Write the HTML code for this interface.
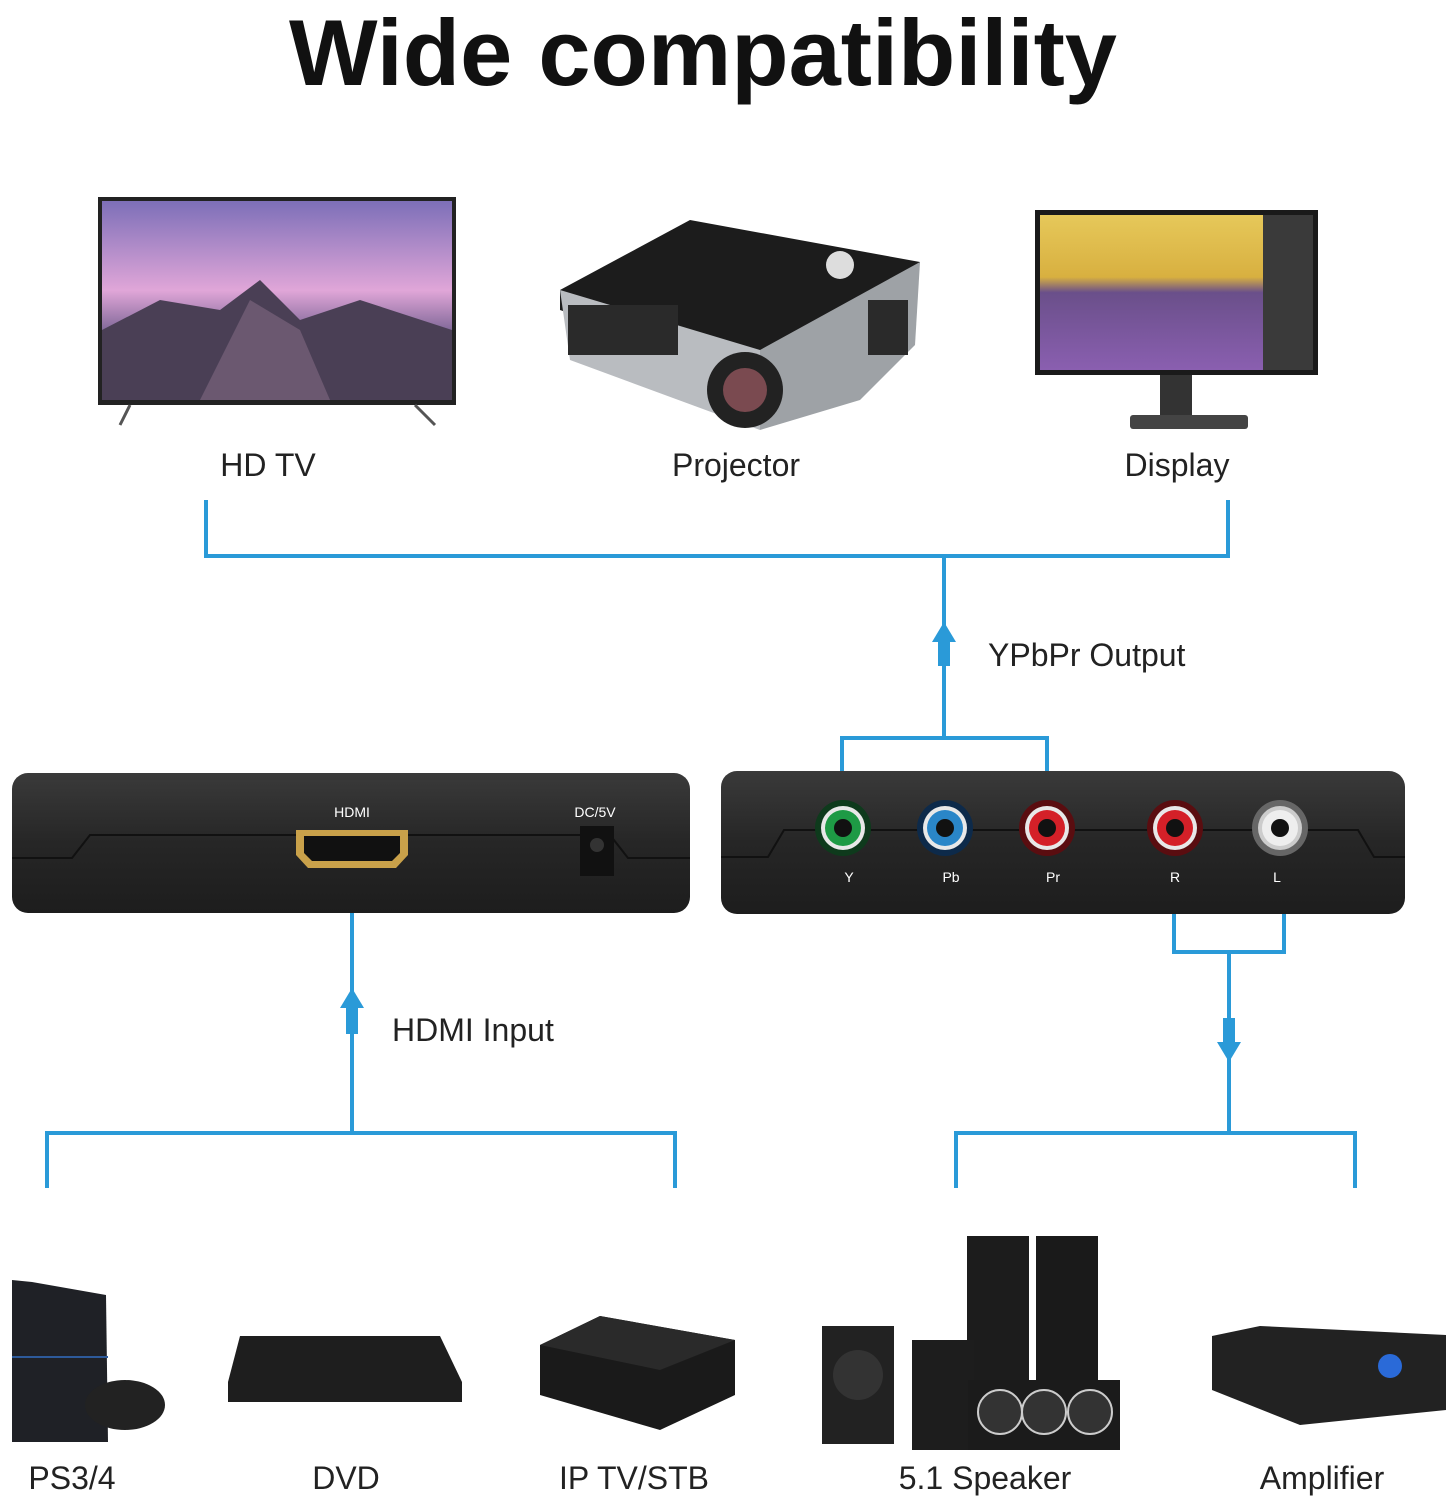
<!DOCTYPE html>
<html><head><meta charset="utf-8"><style>
html,body{margin:0;padding:0;background:#fff}
svg{display:block}
text{font-family:"Liberation Sans",sans-serif}
</style></head><body>
<svg width="1446" height="1500" viewBox="0 0 1446 1500" xmlns="http://www.w3.org/2000/svg">
<defs>
<linearGradient id="sky" x1="0" y1="0" x2="0" y2="1"><stop offset="0" stop-color="#7d6fb8"/><stop offset="0.45" stop-color="#e0a6d8"/><stop offset="0.7" stop-color="#6a5a8a"/><stop offset="1" stop-color="#c9b2d8"/></linearGradient>
<linearGradient id="lav" x1="0" y1="0" x2="0" y2="1"><stop offset="0" stop-color="#e6c85a"/><stop offset="0.4" stop-color="#d8b040"/><stop offset="0.5" stop-color="#6a4f8a"/><stop offset="1" stop-color="#8a5fb0"/></linearGradient>
<linearGradient id="dev" x1="0" y1="0" x2="0" y2="1"><stop offset="0" stop-color="#3a3a3a"/><stop offset="0.5" stop-color="#262626"/><stop offset="1" stop-color="#1d1d1d"/></linearGradient>
</defs>
<text x="703" y="85" text-anchor="middle" font-size="94" font-weight="bold" fill="#111" textLength="828" lengthAdjust="spacingAndGlyphs">Wide compatibility</text>

<!-- TV -->
<rect x="98" y="197" width="358" height="208" fill="#222"/>
<rect x="102" y="201" width="350" height="199" fill="url(#sky)"/>
<polygon points="102,330 160,300 220,310 260,280 300,320 360,300 452,330 452,400 102,400" fill="#4a3f55"/>
<polygon points="200,400 250,300 300,330 330,400" fill="#6b5870"/>
<path d="M130 405 L120 425 M415 405 L435 425" stroke="#555" stroke-width="3"/>
<text x="268" y="476" text-anchor="middle" font-size="32" fill="#222">HD TV</text>

<!-- Projector -->
<polygon points="560,290 690,220 920,262 905,330 760,380 560,310" fill="#1c1c1c"/>
<polygon points="560,290 760,350 760,430 570,360" fill="#b9bcc0"/>
<polygon points="760,350 920,262 915,345 860,400 760,430" fill="#9ea2a6"/>
<rect x="568" y="305" width="110" height="50" fill="#2a2a2a"/>
<rect x="868" y="300" width="40" height="55" fill="#2a2a2a"/>
<circle cx="745" cy="390" r="38" fill="#222"/><circle cx="745" cy="390" r="22" fill="#7a4a50"/>
<circle cx="840" cy="265" r="14" fill="#ddd"/>
<text x="736" y="476" text-anchor="middle" font-size="32" fill="#222">Projector</text>

<!-- Display -->
<rect x="1035" y="210" width="283" height="165" fill="#1a1a1a"/>
<rect x="1040" y="215" width="223" height="155" fill="url(#lav)"/>
<rect x="1263" y="215" width="50" height="155" fill="#3a3a3a"/>
<rect x="1160" y="375" width="32" height="40" fill="#333"/>
<rect x="1130" y="415" width="118" height="14" rx="3" fill="#444"/>
<text x="1177" y="476" text-anchor="middle" font-size="32" fill="#222">Display</text>

<g stroke="#2a9ad8" stroke-width="4" fill="none">
<path d="M206 500 V556 H1228 V500"/>
<path d="M944 556 V738"/>
<path d="M842 785 V738 H1047 V785"/>
<path d="M352 903 V1133"/>
<path d="M47 1188 V1133 H675 V1188"/>
<path d="M1174 905 V952 H1284 V905"/>
<path d="M1229 952 V1133"/>
<path d="M956 1188 V1133 H1355 V1188"/>
</g>
<g fill="#2a9ad8">
<polygon points="944,622 932,642 956,642"/><rect x="938" y="640" width="12" height="26"/>
<polygon points="352,988 340,1008 364,1008"/><rect x="346" y="1006" width="12" height="28"/>
<polygon points="1229,1062 1217,1042 1241,1042"/><rect x="1223" y="1018" width="12" height="26"/>
</g>
<text x="988" y="666" font-size="32" fill="#222">YPbPr Output</text>
<text x="392" y="1041" font-size="32" fill="#222">HDMI Input</text>

<!-- Left device -->
<rect x="12" y="773" width="678" height="140" rx="16" fill="url(#dev)"/>
<path d="M12 858 H72 L90 835 H610 L628 858 H690" stroke="#111" stroke-width="2" fill="none"/>
<text x="352" y="817" text-anchor="middle" font-size="14" fill="#fff">HDMI</text>
<polygon points="296,830 408,830 408,855 396,868 308,868 296,855" fill="#c9a14a"/>
<polygon points="304,836 400,836 400,853 392,861 312,861 304,853" fill="#111"/>
<text x="595" y="817" text-anchor="middle" font-size="14" fill="#fff">DC/5V</text>
<rect x="580" y="826" width="34" height="50" fill="#111"/><circle cx="597" cy="845" r="7" fill="#333"/>

<!-- Right device -->
<rect x="721" y="771" width="684" height="143" rx="16" fill="url(#dev)"/>
<path d="M721 857 H768 L784 830 H1358 L1374 857 H1405" stroke="#111" stroke-width="2" fill="none"/>
<g>
<circle cx="843" cy="828" r="28" fill="#0e3a1c"/><circle cx="843" cy="828" r="22" fill="#e8e8e8"/><circle cx="843" cy="828" r="18" fill="#1e9a45"/><circle cx="843" cy="828" r="9" fill="#111"/>
<circle cx="945" cy="828" r="28" fill="#0d2a4a"/><circle cx="945" cy="828" r="22" fill="#e8e8e8"/><circle cx="945" cy="828" r="18" fill="#2a86c8"/><circle cx="945" cy="828" r="9" fill="#111"/>
<circle cx="1047" cy="828" r="28" fill="#5a0d10"/><circle cx="1047" cy="828" r="22" fill="#e8e8e8"/><circle cx="1047" cy="828" r="18" fill="#d42028"/><circle cx="1047" cy="828" r="9" fill="#111"/>
<circle cx="1175" cy="828" r="28" fill="#5a0d10"/><circle cx="1175" cy="828" r="22" fill="#e8e8e8"/><circle cx="1175" cy="828" r="18" fill="#d42028"/><circle cx="1175" cy="828" r="9" fill="#111"/>
<circle cx="1280" cy="828" r="28" fill="#666"/><circle cx="1280" cy="828" r="22" fill="#ccc"/><circle cx="1280" cy="828" r="18" fill="#eee"/><circle cx="1280" cy="828" r="9" fill="#111"/>
</g>
<g font-size="14" fill="#fff" text-anchor="middle">
<text x="849" y="882">Y</text><text x="951" y="882">Pb</text><text x="1053" y="882">Pr</text><text x="1175" y="882">R</text><text x="1277" y="882">L</text>
</g>

<!-- bottom devices -->
<polygon points="12,1280 32,1282 106,1295 108,1442 12,1442" fill="#1f2126"/>
<rect x="12" y="1356" width="96" height="2" fill="#2d5a9a"/>
<ellipse cx="125" cy="1405" rx="40" ry="25" fill="#222"/>
<polygon points="228,1382 240,1336 440,1336 462,1382 462,1402 228,1402" fill="#1e1e1e"/>
<polygon points="540,1345 600,1316 735,1340 735,1395 660,1430 540,1395" fill="#1a1a1a"/>
<polygon points="540,1345 600,1316 735,1340 660,1370" fill="#2a2a2a"/>
<rect x="967" y="1236" width="62" height="210" fill="#1c1c1c"/>
<rect x="1036" y="1236" width="62" height="210" fill="#1a1a1a"/>
<rect x="822" y="1326" width="72" height="118" fill="#222"/>
<circle cx="858" cy="1375" r="25" fill="#333"/>
<rect x="912" y="1340" width="62" height="110" fill="#1d1d1d"/>
<rect x="968" y="1380" width="152" height="70" fill="#1b1b1b"/>
<circle cx="1000" cy="1412" r="22" fill="#333" stroke="#ccc" stroke-width="2"/>
<circle cx="1044" cy="1412" r="22" fill="#333" stroke="#ccc" stroke-width="2"/>
<circle cx="1090" cy="1412" r="22" fill="#333" stroke="#ccc" stroke-width="2"/>
<polygon points="1212,1336 1260,1326 1446,1335 1446,1410 1300,1425 1212,1390" fill="#222"/>
<circle cx="1390" cy="1366" r="12" fill="#2a6ad8"/>

<g font-size="32" fill="#222" text-anchor="middle">
<text x="72" y="1489">PS3/4</text>
<text x="346" y="1489">DVD</text>
<text x="634" y="1489">IP TV/STB</text>
<text x="985" y="1489">5.1 Speaker</text>
<text x="1322" y="1489">Amplifier</text>
</g>
</svg>
</body></html>
